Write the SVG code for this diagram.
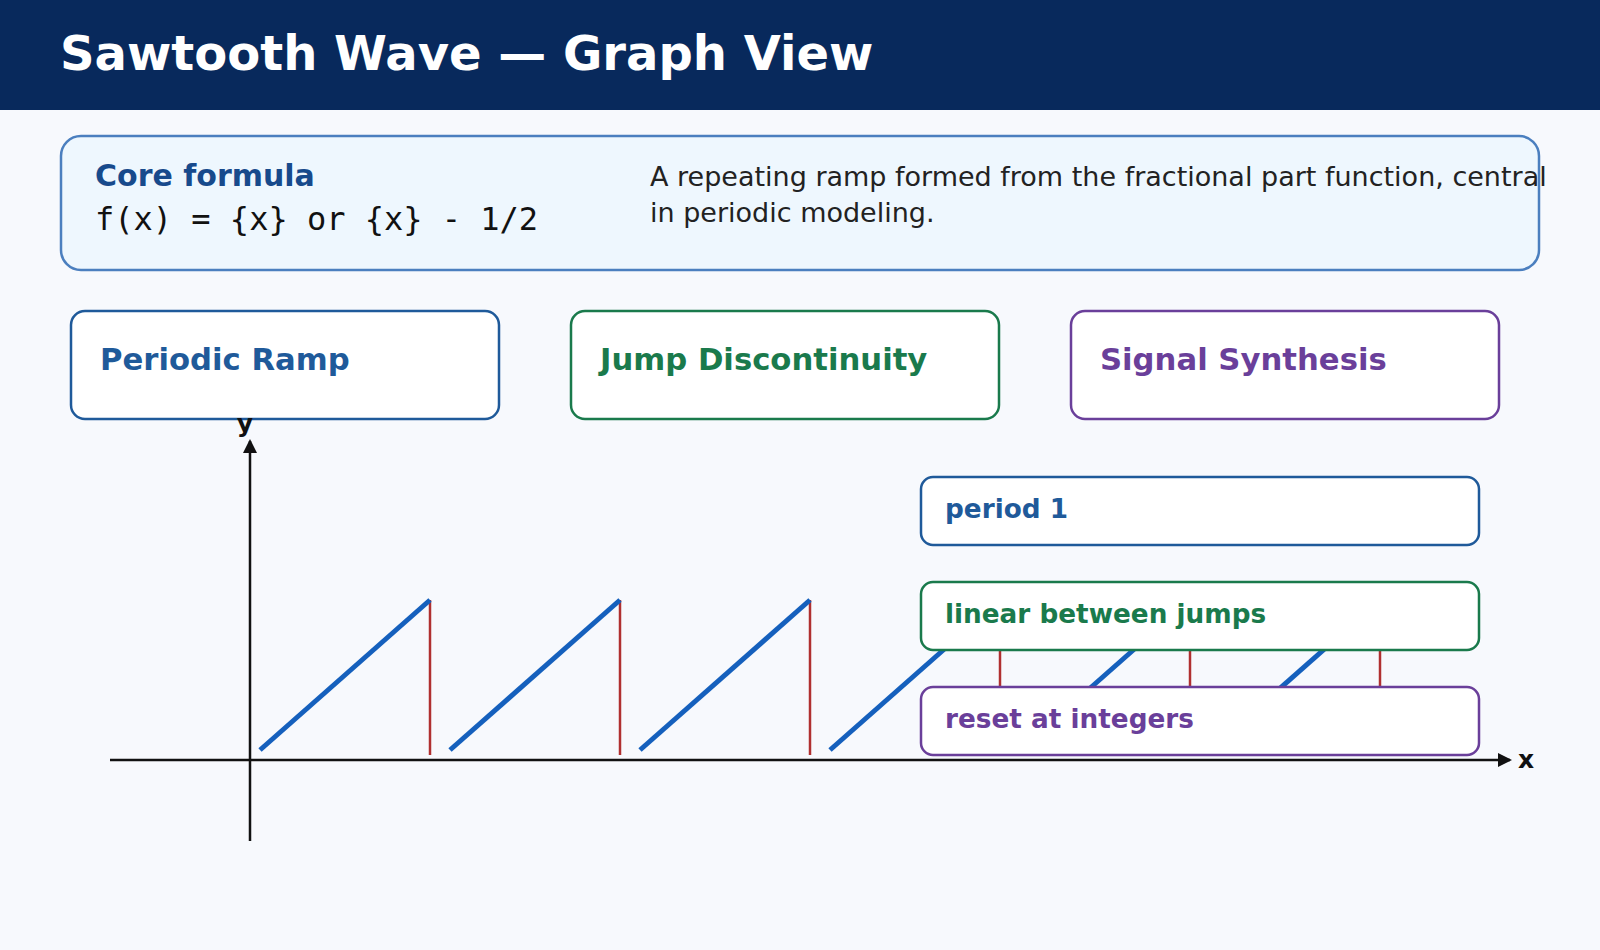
<svg xmlns="http://www.w3.org/2000/svg" width="1600" height="950" viewBox="0 0 1600 950">
<defs>
<style>
.t{font-family:"DejaVu Sans",sans-serif}
.card{fill:#fff;stroke-width:2.5}
.ramp{stroke:#1560bd;stroke-width:5;fill:none}
.jump{stroke:#b03030;stroke-width:2.5}
.ax{stroke:#111;stroke-width:2.5}
</style>
<marker id="ah" markerWidth="14" markerHeight="14" refX="12" refY="7" orient="auto" markerUnits="userSpaceOnUse"><path d="M0,0 L14,7 L0,14 Z" fill="#111"/></marker>
</defs>
<rect width="1600" height="950" fill="#f7f9fd"/>
<rect width="1600" height="110" fill="#08295c"/>
<text class="t" x="60" y="70" font-size="48" font-weight="bold" fill="#fff">Sawtooth Wave — Graph View</text>
<g id="formula">
<rect x="61" y="136" width="1478" height="134" rx="20" fill="#eef7fe" stroke="#4b7fbf" stroke-width="2.5"/>
<text class="t" x="95" y="186" font-size="30" font-weight="bold" fill="#174a8c">Core formula</text>
<text x="95" y="230" font-size="32" font-family="DejaVu Sans Mono,monospace" fill="#111">f(x) = {x} or {x} - 1/2</text>
<text class="t" font-size="27" fill="#222"><tspan x="650" y="186">A repeating ramp formed from the fractional part function, central</tspan><tspan x="650" y="222">in periodic modeling.</tspan></text>
</g>
<g id="periodic-ramp"><rect class="card" x="71" y="311" width="428" height="108" rx="14" stroke="#1f5a9a"/><text class="t" x="100" y="370" font-size="30.7" font-weight="bold" fill="#1f5a9a">Periodic Ramp</text></g>
<g id="jump-discontinuity"><rect class="card" x="571" y="311" width="428" height="108" rx="14" stroke="#1a7a4c"/><text class="t" x="600" y="370" font-size="30.7" font-weight="bold" fill="#1a7a4c">Jump Discontinuity</text></g>
<g id="signal-synthesis"><rect class="card" x="1071" y="311" width="428" height="108" rx="14" stroke="#6a3f9a"/><text class="t" x="1100" y="370" font-size="30.7" font-weight="bold" fill="#6a3f9a">Signal Synthesis</text></g>
<g id="connectors">
<line class="ax" x1="110" y1="760" x2="1510" y2="760" marker-end="url(#ah)"/>
<line class="ax" x1="250" y1="841" x2="250" y2="441" marker-end="url(#ah)"/>
<g class="jump"><line x1="430" y1="600" x2="430" y2="755"/><line x1="620" y1="600" x2="620" y2="755"/><line x1="810" y1="600" x2="810" y2="755"/><line x1="1000" y1="600" x2="1000" y2="755"/><line x1="1190" y1="600" x2="1190" y2="755"/><line x1="1380" y1="600" x2="1380" y2="755"/></g>
<g class="ramp"><line x1="260" y1="750" x2="430" y2="600"/><line x1="450" y1="750" x2="620" y2="600"/><line x1="640" y1="750" x2="810" y2="600"/><line x1="830" y1="750" x2="1000" y2="600"/><line x1="1020" y1="750" x2="1190" y2="600"/><line x1="1210" y1="750" x2="1380" y2="600"/></g>
</g>
<text class="t" x="245" y="432" font-size="25" font-weight="bold" fill="#111" text-anchor="middle">y</text>
<text class="t" x="1518" y="768" font-size="25" font-weight="bold" fill="#111">x</text>
<g id="period-1"><rect class="card" x="921" y="477" width="558" height="68" rx="12" stroke="#1f5a9a"/><text class="t" x="945" y="518" font-size="26.3" font-weight="bold" fill="#1f5a9a">period 1</text></g>
<g id="linear-between-jumps"><rect class="card" x="921" y="582" width="558" height="68" rx="12" stroke="#1a7a4c"/><text class="t" x="945" y="623" font-size="26.3" font-weight="bold" fill="#1a7a4c">linear between jumps</text></g>
<g id="reset-at-integers"><rect class="card" x="921" y="687" width="558" height="68" rx="12" stroke="#6a3f9a"/><text class="t" x="945" y="728" font-size="26.3" font-weight="bold" fill="#6a3f9a">reset at integers</text></g>
</svg>
